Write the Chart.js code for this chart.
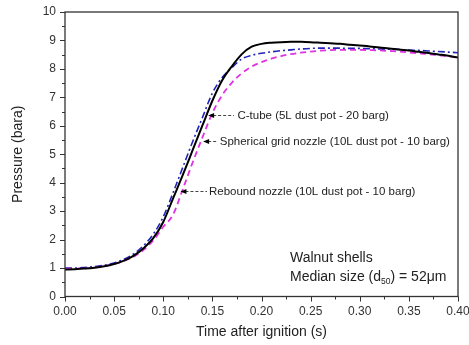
<!DOCTYPE html>
<html><head><meta charset="utf-8">
<script src="https://cdn.jsdelivr.net/npm/chart.js@4/dist/chart.umd.min.js"></script>
<style>html,body{margin:0;padding:0;background:#fff;} #wrap{width:469px;height:345px;position:relative;}</style>
</head><body><div id="wrap"><canvas id="c" width="469" height="345"></canvas></div>
<script>
const times = [0,0.01,0.02,0.03,0.04,0.05,0.06,0.07,0.08,0.09,0.10,0.11,0.12,0.13,0.14,0.15,0.16,0.17,0.18,0.19,0.20,0.21,0.22,0.23,0.24,0.25,0.26,0.27,0.28,0.29,0.30,0.31,0.32,0.33,0.34,0.35,0.36,0.37,0.38,0.39,0.40];
const cTube = [0.95,0.96,0.98,1.01,1.06,1.14,1.26,1.44,1.70,2.06,2.62,3.45,4.28,5.15,6.02,6.88,7.60,8.10,8.52,8.78,8.88,8.92,8.94,8.95,8.95,8.94,8.92,8.90,8.88,8.85,8.82,8.79,8.75,8.72,8.68,8.65,8.60,8.56,8.51,8.46,8.40];
const sphericalGrid = [0.97,0.98,0.99,1.02,1.07,1.14,1.25,1.40,1.64,1.98,2.45,2.88,3.78,4.72,5.60,6.45,7.08,7.52,7.85,8.08,8.24,8.36,8.45,8.52,8.57,8.61,8.64,8.66,8.67,8.67,8.67,8.66,8.65,8.63,8.61,8.58,8.55,8.52,8.48,8.44,8.40];
const rebound = [1.00,1.00,1.02,1.05,1.10,1.18,1.31,1.50,1.79,2.20,2.80,3.65,4.55,5.45,6.30,7.15,7.70,8.05,8.35,8.48,8.55,8.60,8.64,8.67,8.70,8.72,8.73,8.73,8.73,8.72,8.72,8.71,8.70,8.69,8.68,8.66,8.65,8.63,8.61,8.59,8.57];
const xTickLabels = ["0.00","0.05","0.10","0.15","0.20","0.25","0.30","0.35","0.40"];
const yTickLabels = ["0","1","2","3","4","5","6","7","8","9","10"];
const seriesNames = ["C-tube (5L dust pot - 20 barg)","Spherical grid nozzle (10L dust pot - 10 barg)","Rebound nozzle (10L dust pot - 10 barg)"];
// annotation anchors in data units: arrow tip (t,P), text start t
const arrowTipT = [0.1457,0.1406,0.1175];
const arrowTipP = [6.38,5.47,3.70];
const labelStartT = [0.1755,0.1575,0.1465];
const dashEndT = [0.172,0.154,0.1445];

const FONT = "'Liberation Sans', Arial, sans-serif";
const toPts = arr => arr.map((v,i)=>({x:times[i],y:v}));

const decor = {
  id:'decor',
  afterDraw(chart){
    const ctx = chart.ctx, a = chart.chartArea;
    const xs = chart.scales.x, ys = chart.scales.y;
    ctx.save();
    ctx.strokeStyle = '#333'; ctx.lineWidth = 1.3;
    ctx.strokeRect(a.left, a.top, a.right-a.left, a.bottom-a.top);
    ctx.lineWidth = 1; ctx.strokeStyle='#333';
    ctx.beginPath();
    for (let i=0;i<=20;i++){
      const v = i*0.5, py = Math.round(ys.getPixelForValue(v))+0.5;
      const len = (i%2===0)?5:3;
      ctx.moveTo(a.left, py); ctx.lineTo(a.left-len, py);
    }
    for (let i=0;i<=16;i++){
      const v = i*0.025, px = Math.round(xs.getPixelForValue(v))+0.5;
      const len = (i%2===0)?5:3;
      ctx.moveTo(px, a.bottom); ctx.lineTo(px, a.bottom+len);
    }
    ctx.stroke();
    ctx.font = '11.5px '+FONT; ctx.textBaseline='middle';
    for (let k=0;k<3;k++){
      const tx = xs.getPixelForValue(arrowTipT[k]);
      const ty = Math.round(ys.getPixelForValue(arrowTipP[k]))+0.5;
      const de = xs.getPixelForValue(dashEndT[k]);
      ctx.strokeStyle='#444'; ctx.lineWidth=1; ctx.setLineDash([3,2]);
      ctx.beginPath(); ctx.moveTo(tx+5,ty); ctx.lineTo(de,ty); ctx.stroke();
      ctx.setLineDash([]);
      ctx.fillStyle='#000';
      ctx.beginPath(); ctx.moveTo(tx,ty); ctx.lineTo(tx+6,ty-2.5); ctx.lineTo(tx+6,ty+2.5); ctx.closePath(); ctx.fill();
      ctx.fillStyle='#222';
      ctx.fillText(seriesNames[k], xs.getPixelForValue(labelStartT[k]), ty);
    }
    ctx.font = '14px '+FONT; ctx.fillStyle='#222'; ctx.textBaseline='middle';
    const sx = xs.getPixelForValue(0.229);
    ctx.fillText('Walnut shells', sx, ys.getPixelForValue(1.35));
    const ly = ys.getPixelForValue(0.68);
    let s1 = 'Median size (d';
    ctx.fillText(s1, sx, ly);
    let w = ctx.measureText(s1).width;
    ctx.font = '8.5px '+FONT;
    ctx.fillText('50', sx+w, ly+5);
    w += ctx.measureText('50').width;
    ctx.font = '14px '+FONT;
    ctx.fillText(') = 52\u03BCm', sx+w, ly);
    ctx.restore();
  }
};

new Chart(document.getElementById('c'), {
  type:'line',
  data:{datasets:[
    {label:seriesNames[0], data:toPts(cTube), borderColor:'#000', borderWidth:2, pointRadius:0, cubicInterpolationMode:'monotone', order:1},
    {label:seriesNames[1], data:toPts(sphericalGrid), borderColor:'#e033e0', borderWidth:1.8, borderDash:[6,4], pointRadius:0, cubicInterpolationMode:'monotone', order:2},
    {label:seriesNames[2], data:toPts(rebound), borderColor:'#2424b8', borderWidth:1.6, borderDash:[7,3,2,3], pointRadius:0, cubicInterpolationMode:'monotone', order:3}
  ]},
  options:{
    responsive:false, animation:false, devicePixelRatio:1,
    layout:{padding:{top:12,right:11,left:6,bottom:0}},
    plugins:{legend:{display:false}, tooltip:{enabled:false}},
    scales:{
      x:{type:'linear', min:0, max:0.4,
        afterBuildTicks(s){ s.ticks = xTickLabels.map(v=>({value:parseFloat(v)})); },
        afterFit(s){ s.height = 48.5; s.paddingLeft = 0; s.paddingRight = 0; },
        grid:{drawOnChartArea:false, drawTicks:false}, border:{display:false},
        ticks:{padding:8, color:'#333', font:{family:FONT,size:12}, maxRotation:0, callback:(v,i)=>xTickLabels[i]},
        title:{display:true, text:'Time after ignition (s)', color:'#222', font:{family:FONT,size:14}, padding:{top:8}}
      },
      y:{type:'linear', min:0, max:10,
        afterBuildTicks(s){ s.ticks = yTickLabels.map(v=>({value:parseFloat(v)})); },
        afterFit(s){ s.width = 59; s.paddingTop = 0; s.paddingBottom = 0; },
        grid:{drawOnChartArea:false, drawTicks:false}, border:{display:false},
        ticks:{padding:9, color:'#333', font:{family:FONT,size:12}, callback:(v,i)=>yTickLabels[i]},
        title:{display:true, text:'Pressure (bara)', color:'#222', font:{family:FONT,size:14}, padding:{bottom:6}}
      }
    }
  },
  plugins:[decor]
});
</script></body></html>
